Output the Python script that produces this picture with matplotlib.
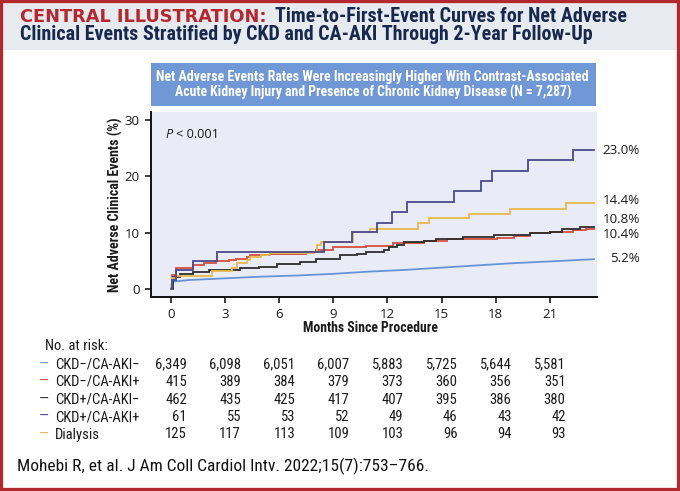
import matplotlib
matplotlib.use("Agg")
import matplotlib.pyplot as plt
from matplotlib import font_manager
from matplotlib.patches import Rectangle
from matplotlib.transforms import blended_transform_factory

# ---- data ----
groups = ["CKD\u2212/CA-AKI\u2212", "CKD\u2212/CA-AKI+", "CKD+/CA-AKI\u2212", "CKD+/CA-AKI+", "Dialysis"]
colors = ["#6593d6", "#d34f3e", "#2e2e2e", "#4b4a8e", "#e8b84e"]

# cumulative event curves (months, %)
t_ckdn_akin = [0, 0.05, 1, 3, 5, 7, 9, 11, 13, 15, 17, 19, 21, 23.45]
y_ckdn_akin = [0, 1.3, 1.6, 1.9, 2.2, 2.4, 2.7, 3.1, 3.4, 3.8, 4.2, 4.6, 4.9, 5.3]

t_ckdn_akip = [0, 0.05, 0.3, 1.24, 1.8, 2.5, 3.2, 3.6, 4.2, 4.4, 5.5, 7.5, 8.05, 8.96, 10.8, 11.6,
               12.3, 12.9, 14.0, 15.3, 16.5, 18.06, 19.0, 19.9, 21.0, 22.3, 23.0, 23.45]
y_ckdn_akip = [0, 2.5, 3.7, 4.2, 4.7, 4.9, 5.2, 5.4, 5.7, 6.0, 6.3, 6.5, 6.9, 7.5, 7.6, 7.7,
               8.1, 8.2, 8.5, 8.8, 8.9, 9.0, 9.4, 9.9, 10.1, 10.4, 10.6, 10.6]

t_ckdp_akin = [0, 0.1, 0.5, 1.24, 2.1, 3.8, 4.9, 5.86, 7.15, 8.05, 9.35, 10.3, 10.8, 11.8, 12.1,
               12.5, 12.9, 14.0, 14.7, 16.2, 17.9, 19.9, 21.0, 21.7, 22.7, 23.45]
y_ckdp_akin = [0, 2.2, 2.7, 3.1, 3.4, 3.7, 4.0, 4.4, 4.8, 5.4, 6.0, 6.3, 6.6, 6.9, 7.5,
               7.8, 8.3, 8.5, 8.8, 9.3, 9.6, 9.9, 10.2, 10.6, 10.95, 10.95]

t_ckdp_akip = [0, 0.05, 0.3, 1.24, 2.57, 8.49, 10.02, 11.4, 12.24, 13.07, 15.7, 17.18, 17.82,
               19.78, 22.3, 23.45]
y_ckdp_akip = [0, 1.6, 3.3, 5.0, 6.6, 8.4, 10.1, 11.8, 13.7, 15.5, 17.4, 19.2, 21.0,
               22.9, 24.7, 24.7]

t_dialysis = [0, 0.05, 0.3, 2.26, 3.37, 3.68, 4.2, 4.4, 4.96, 5.5, 7.9, 8.1, 8.3, 10.1, 11.04,
              13.7, 14.3, 16.5, 18.77, 21.9, 23.45]
y_dialysis = [0, 1.9, 2.3, 3.25, 3.8, 4.55, 5.15, 5.7, 6.1, 6.4, 6.6, 7.8, 8.4, 10.06, 10.7,
              11.7, 12.55, 13.4, 14.3, 15.3, 15.3]

end_labels = ["23.0%", "14.4%", "10.8%", "10.4%", "5.2%"]

risk_months = [0, 3, 6, 9, 12, 15, 18, 21]
risk_ckdn_akin = ["6,349", "6,098", "6,051", "6,007", "5,883", "5,725", "5,644", "5,581"]
risk_ckdn_akip = ["415", "389", "384", "379", "373", "360", "356", "351"]
risk_ckdp_akin = ["462", "435", "425", "417", "407", "395", "386", "380"]
risk_ckdp_akip = ["61", "55", "53", "52", "49", "46", "43", "42"]
risk_dialysis = ["125", "117", "113", "109", "103", "96", "94", "93"]

# ---- fonts ----
available = {f.name for f in font_manager.fontManager.ttflist}


def pick(*names):
    for n in names:
        if n in available:
            return n
    return "DejaVu Sans"


NARROW = [pick("Liberation Sans Narrow", "Roboto Condensed", "Open Sans Condensed", "Liberation Sans"), "DejaVu Sans"]
REG = [pick("Open Sans", "Noto Sans", "DejaVu Sans"), "DejaVu Sans"]
WIDE = ["DejaVu Sans"]

RED = "#b5272d"
NAVY = "#17284f"
TXT = "#1b1b1b"

W, H = 680, 491
fig = plt.figure(figsize=(W / 100, H / 100), dpi=100)
fig.patch.set_facecolor("white")
renderer = fig.canvas.get_renderer()


def fx(x):
    return x / W


def fy(y):
    return 1 - y / H


def fit(t, target, vertical=False):
    # scale font so the text spans the same number of pixels as in the reference
    bb = t.get_window_extent(renderer)
    size = bb.height if vertical else bb.width
    t.set_fontsize(t.get_fontsize() * target / size)


# header band + border
fig.add_artist(Rectangle((0, fy(50)), 1, 50 / H, transform=fig.transFigure,
                         fc="#e7eaee", ec="none", zorder=0))
fig.add_artist(Rectangle((0, 0), 1, 1, transform=fig.transFigure, fill=False,
                         ec="#b3282d", lw=4.5, zorder=10))

# title
t1 = fig.text(fx(19.5), fy(22), "CENTRAL ILLUSTRATION:", color=RED, fontsize=11,
              fontweight="bold", family=WIDE, va="baseline")
fit(t1, 245.5)
bb = t1.get_window_extent(renderer)
t2 = fig.text(bb.x1 / W + fx(9), fy(22), "Time-to-First-Event Curves for Net Adverse", color=NAVY,
              fontsize=14, fontweight="bold", family=NARROW, va="baseline")
fit(t2, 353.5)
t3 = fig.text(fx(19.5), fy(40.5), "Clinical Events Stratified by CKD and CA-AKI Through 2-Year Follow-Up",
              color=NAVY, fontsize=14, fontweight="bold", family=NARROW, va="baseline")
fit(t3, 576.5)

# blue banner
fig.add_artist(Rectangle((fx(150.7), fy(105.7)), 445.3 / W, 43 / H, transform=fig.transFigure,
                         fc="#7097d6", ec="none", zorder=1))
b1 = fig.text(fx(372.8), fy(77), "Net Adverse Events Rates Were Increasingly Higher With Contrast-Associated",
              color="white", fontsize=10, fontweight="bold", family=NARROW,
              ha="center", va="center", zorder=2)
fit(b1, 431)
b2 = fig.text(fx(373.4), fy(92.5), "Acute Kidney Injury and Presence of Chronic Kidney Disease (N = 7,287)",
              color="white", fontsize=10, fontweight="bold", family=NARROW,
              ha="center", va="center", zorder=2)
fit(b2, 396.7)

# ---- plot ----
ax = fig.add_axes([fx(150.7), fy(297.3), 446 / W, 185.6 / H])
ax.set_facecolor("#e9ecf6")
curves = [
    (t_ckdn_akin, y_ckdn_akin, "default"),
    (t_ckdn_akip, y_ckdn_akip, "steps-post"),
    (t_ckdp_akin, y_ckdp_akin, "steps-post"),
    (t_dialysis, y_dialysis, "steps-post"),
    (t_ckdp_akip, y_ckdp_akip, "steps-post"),
]
curve_colors = [colors[0], colors[1], colors[2], colors[4], colors[3]]
for (t, y, ds), c in zip(curves, curve_colors):
    ax.plot(t, y, color=c, lw=1.3, drawstyle=ds, solid_joinstyle="miter")

ax.set_xlim(-1.13, 23.6)
ax.set_ylim(-1.47, 31.5)
ax.set_xticks(risk_months)
ax.set_yticks([0, 10, 20, 30])
for s in ["top", "right"]:
    ax.spines[s].set_visible(False)
for s in ["left", "bottom"]:
    ax.spines[s].set_linewidth(1.4)
    ax.spines[s].set_color("#111111")
ax.tick_params(direction="out", length=4, width=1.2, pad=4, labelsize=9.5, colors=TXT)
for lab in ax.get_xticklabels() + ax.get_yticklabels():
    lab.set_family(REG)

ax.set_ylabel("Net Adverse Clinical Events (%)", fontsize=9.5, fontweight="bold",
              family=NARROW, color=TXT)
ax.yaxis.set_label_coords(-0.061, 0.5)
fit(ax.yaxis.label, 176, vertical=True)
ax.set_xlabel("Months Since Procedure", fontsize=9.5, fontweight="bold",
              family=NARROW, color=TXT)
ax.xaxis.set_label_coords(0.492, -0.128)
fit(ax.xaxis.label, 135)

# P value
p1 = ax.text(0.034, 0.878, "P", transform=ax.transAxes, fontsize=9.2, style="italic",
             family=REG, va="center", color=TXT)
bbp = p1.get_window_extent(renderer)
fig.text(bbp.x1 / W + fx(3), fy(134.3), "< 0.001", fontsize=9.2, family=REG,
         va="center", color=TXT)

# end-of-curve labels
end_y = [150, 200.7, 219.3, 234, 258.7]
for lab, yy in zip(end_labels, end_y):
    fig.text(fx(640), fy(yy), lab, fontsize=9.6, family=REG,
             ha="right", va="center", color=TXT)

# ---- risk table ----
risk_rows = [risk_ckdn_akin, risk_ckdn_akip, risk_ckdp_akin, risk_ckdp_akip, risk_dialysis]
row_y = [364.5, 382, 399.5, 417, 434.5]
fig.text(fx(45), fy(346), "No. at risk:", fontsize=10.5, family=NARROW,
         va="center", color=TXT)
tr = blended_transform_factory(ax.transData, fig.transFigure)
for name, col, vals, yy in zip(groups, colors, risk_rows, row_y):
    fig.text(fx(39), fy(yy), "\u2014", fontsize=10.5, family=NARROW,
             va="center", color=col)
    fig.text(fx(55), fy(yy), name, fontsize=10.5, family=NARROW,
             va="center", color=TXT)
    for m, v in zip(risk_months, vals):
        fig.text(m + 0.88, fy(yy), v, transform=tr, fontsize=10.5,
                 family=NARROW, ha="right", va="center", color=TXT)

cite = fig.text(fx(17), fy(466.7), "Mohebi R, et al. J Am Coll Cardiol Intv. 2022;15(7):753\u2013766.",
                fontsize=11.5, family=NARROW, va="center", color="#111111")
fit(cite, 410)

fig.savefig("out.png", dpi=100)
